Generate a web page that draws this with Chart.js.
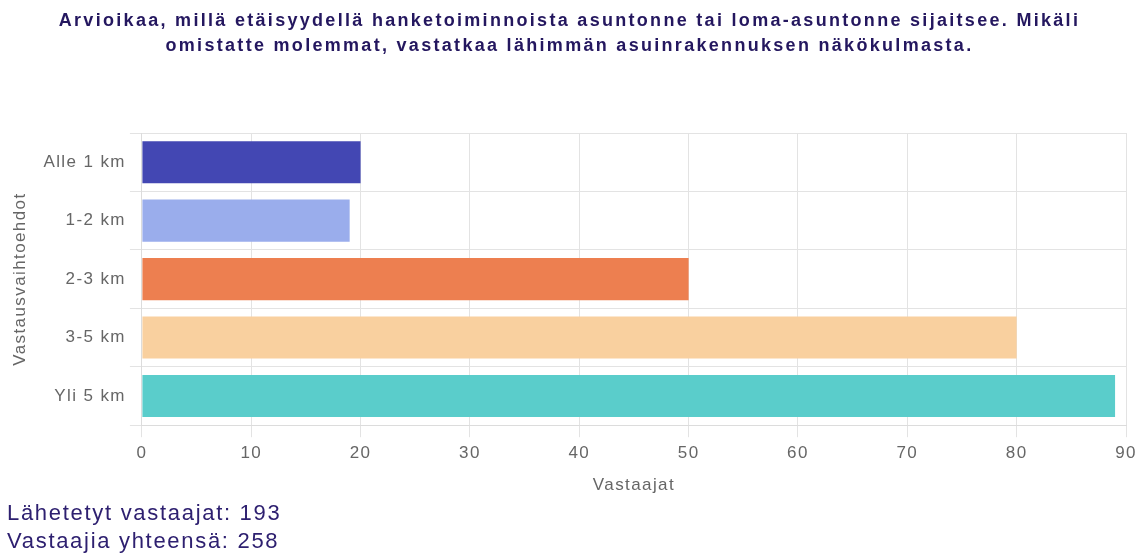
<!DOCTYPE html>
<html><head><meta charset="utf-8">
<script src="https://cdn.jsdelivr.net/npm/chart.js@4"></script>
<style>
html,body{margin:0;padding:0;background:#fff;width:1139px;height:553px;overflow:hidden;font-family:"Liberation Sans",Arial,sans-serif;}
#wrap{position:absolute;left:0;top:0;width:1139px;height:500px;}
#title{position:absolute;left:0;top:8px;width:1139px;text-align:center;color:#24175f;font-weight:bold;font-size:18px;line-height:25px;letter-spacing:2.3px;}
.foot{position:absolute;left:7px;color:#2e2070;font-size:22px;line-height:28px;letter-spacing:1.7px;}
</style></head><body>
<div id="wrap"><canvas id="c" width="1139" height="500"></canvas></div>
<div id="title"></div>
<div class="foot" style="top:499px">Lähetetyt vastaajat: 193</div>
<div class="foot" style="top:527px">Vastaajia yhteensä: 258</div>
<script>
const categories = ["Alle 1 km", "1-2 km", "2-3 km", "3-5 km", "Yli 5 km"];
const values = [20, 19, 50, 80, 89];
const barColors = ["#4347b3", "#9aadec", "#ed7f50", "#f9d09f", "#5acdcb"];
const titleLines = ["Arvioikaa, millä etäisyydellä hanketoiminnoista asuntonne tai loma-asuntonne sijaitsee. Mikäli", "omistatte molemmat, vastatkaa lähimmän asuinrakennuksen näkökulmasta."];
const xTitle = "Vastaajat";
const yTitle = "Vastausvaihtoehdot";
const xMax = 90, xStep = 10;

const titleEl = document.getElementById('title');
titleLines.forEach((t, i) => { if (i) titleEl.appendChild(document.createElement('br')); titleEl.appendChild(document.createTextNode(t)); });

const spacing = {
  id: 'spacing',
  beforeUpdate(chart) { chart.ctx.letterSpacing = '1.4px'; },
  beforeDraw(chart) { chart.ctx.letterSpacing = '1.4px'; }
};
const F = { family: '"Liberation Sans", Arial, sans-serif', size: 17 };

new Chart(document.getElementById('c'), {
  type: 'bar',
  data: { labels: categories, datasets: [{ data: values, backgroundColor: barColors, borderWidth: 0 }] },
  plugins: [spacing],
  options: {
    indexAxis: 'y', responsive: false, animation: false,
    layout: { padding: { left: 4, right: 13, top: 133, bottom: 4 } },
    plugins: { legend: { display: false }, tooltip: { enabled: false }, title: { display: false } },
    scales: {
      x: { min: 0, max: xMax, ticks: { stepSize: xStep, color: '#666', font: F, padding: 6 },
        afterFit(scale) { scale.paddingRight = 0; },
        grid: { color: '#e3e3e3', tickLength: 12 }, border: { color: '#dcdcdc' },
        title: { display: true, text: xTitle, color: '#666', font: F, padding: { top: 6, bottom: 0 } } },
      y: { ticks: { color: '#666', font: F, padding: 4 },
        grid: { color: '#e3e3e3', tickLength: 12, offset: true }, border: { color: '#dcdcdc' },
        title: { display: true, text: yTitle, color: '#666', font: F, padding: { top: 6, bottom: 9 } } }
    }
  }
});
</script>
</body></html>
